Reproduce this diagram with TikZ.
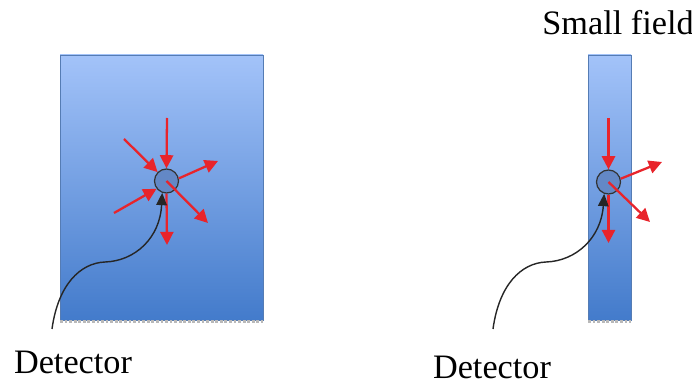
\documentclass[tikz,border=0pt]{standalone}
\usepackage{fontspec}
\setmainfont{Liberation Serif}
\usetikzlibrary{arrows.meta}
\definecolor{fieldtop}{HTML}{A3C3F9}
\definecolor{fieldbot}{HTML}{437BCB}
\definecolor{beamred}{HTML}{E8242B}
\definecolor{detblue}{HTML}{6388C6}
\tikzset{
  field/.style = {draw=fieldbot!70!gray, line width=0.4pt, top color=fieldtop, bottom color=fieldbot},
  det/.style   = {circle, draw=black!80, line width=0.7pt, fill=detblue, minimum size=24*0.02cm, inner sep=0},
  ray/.style   = {beamred, line width=1.3pt, -{Triangle[width=7.5pt,length=7.5pt]}},
  cable/.style = {black!85, line width=0.8pt, -{Triangle[width=6pt,length=7pt]}},
  lbl/.style   = {font=\fontsize{19.5}{23}\selectfont, inner sep=0, anchor=base}
}
\begin{document}
\begin{tikzpicture}[x=0.02cm, y=-0.02cm]
  \useasboundingbox (0,0) rectangle (692,384);
  % broad field
  \shade[field] (60,55) rectangle (263,320);
  \draw[gray!55, densely dotted, line width=1.6pt] (60,321.5)--(263,321.5);
  \node[det] (detL) at (166.5,181){};
  \draw[ray] (167,118) -- (detL.north);
  \draw[ray] (detL.south) -- (167,245);
  \draw[ray] (124,139) -- (detL.north west);
  \draw[ray] (detL.center) -- (208,223);
  \draw[ray] (detL.12) -- (218,161);
  \draw[ray] (114,213) -- (detL.218);
  \coordinate (cabL) at (52,329);
  \draw[cable] (cabL) .. controls (58,285) and (80,263) .. (105,262) .. controls (135,261) and (160,238) .. (detL.250);
  \node[lbl] (txtL) at (73,374) {Detector};
  % small field
  \shade[field] (588,55) rectangle (631,320);
  \draw[gray!55, densely dotted, line width=1.6pt] (588,321.5)--(631,321.5);
  \node[det] (detR) at (608.5,182){};
  \draw[ray] (608.5,118) -- (detR.north);
  \draw[ray] (detR.south) -- (608.5,243);
  \draw[ray] (detR.15) -- (662,162);
  \draw[ray] (detR.center) -- (650,222);
  \coordinate (cabR) at (493,329);
  \draw[cable] (cabR) .. controls (499,285) and (521,263) .. (546,262) .. controls (576,261) and (601,238) .. (detR.250);
  \node[lbl] (txtR) at (492,378.5) {Detector};
  \node[lbl] (txtS) at (618,35) {Small field};
\end{tikzpicture}
\end{document}
